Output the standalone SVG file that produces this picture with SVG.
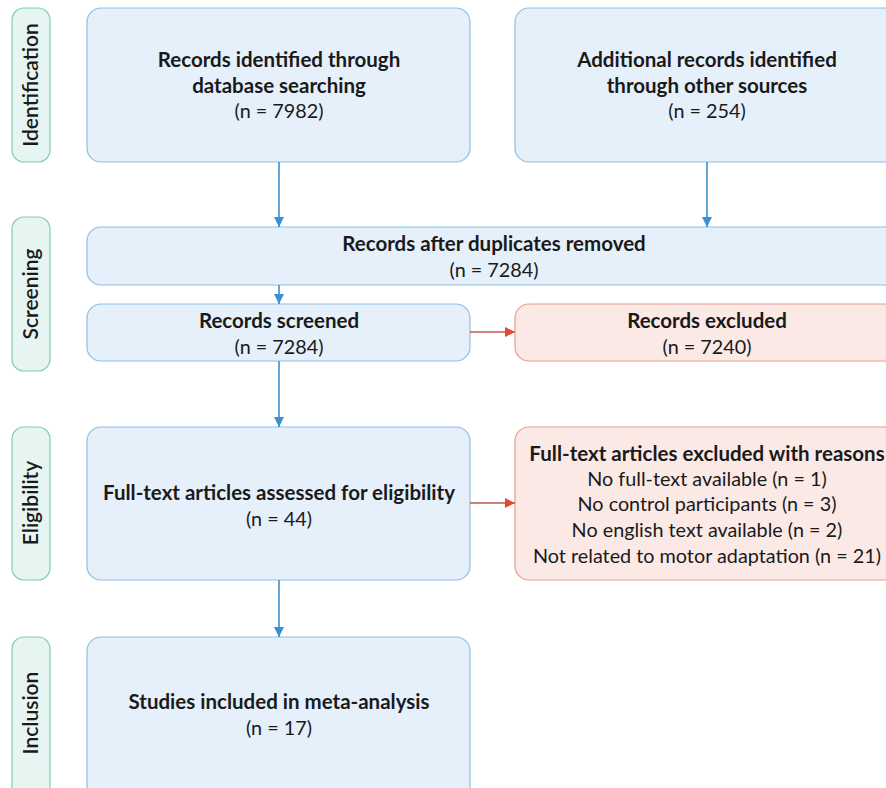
<svg xmlns="http://www.w3.org/2000/svg" width="886" height="788" viewBox="0 0 886 788">
<defs>
<style>
.stage{fill:#e6f5f1;stroke:#7fcdb8;stroke-width:1.2}
.stxt{font-family:Lato,"Noto Sans",sans-serif;font-size:21px;font-weight:600;fill:#1a1a1a;text-anchor:middle}
.box{fill:#e5f0fa;stroke:#8dbfe3;stroke-width:1.2}
.rbox{fill:#fbe9e6;stroke:#eb9c8e;stroke-width:1.2}
.b{font-family:Lato,"Noto Sans",sans-serif;font-size:20.5px;font-weight:bold;fill:#1a1a1a;text-anchor:middle}
.r{font-family:Lato,"Noto Sans",sans-serif;font-size:19.8px;fill:#1a1a1a;text-anchor:middle}
.ab{stroke:#3a8fd0;stroke-width:1.6;fill:none;marker-end:url(#mb)}
.ar{stroke:#c0584a;stroke-width:1.6;fill:none;marker-end:url(#mr)}
</style>
<marker id="mb" viewBox="0 0 10 10" refX="10" refY="5" markerWidth="10" markerHeight="10" markerUnits="userSpaceOnUse" orient="auto"><path d="M0,0 L10,5 L0,10 z" fill="#3a8fd0"/></marker>
<marker id="mr" viewBox="0 0 10 10" refX="10" refY="5" markerWidth="10" markerHeight="10" markerUnits="userSpaceOnUse" orient="auto"><path d="M0,0 L10,5 L0,10 z" fill="#e04a33"/></marker>
</defs>
<rect width="886" height="788" fill="#ffffff"/>
<g id="stage-identification"><rect class="stage" x="12" y="8" width="38" height="154" rx="12"/><text class="stxt" transform="translate(38,85) rotate(-90)">Identification</text></g>
<g id="stage-screening"><rect class="stage" x="12" y="217" width="38" height="154" rx="12"/><text class="stxt" transform="translate(38,294) rotate(-90)">Screening</text></g>
<g id="stage-eligibility"><rect class="stage" x="12" y="427" width="38" height="153" rx="12"/><text class="stxt" transform="translate(38,503) rotate(-90)">Eligibility</text></g>
<g id="stage-inclusion"><rect class="stage" x="12" y="637" width="38" height="165" rx="12"/><text class="stxt" transform="translate(38,713) rotate(-90)">Inclusion</text></g>

<g id="n-database"><rect class="box" x="87" y="8" width="383" height="154" rx="14"/>
<text class="b" x="279" y="67">Records identified through</text>
<text class="b" x="279" y="93">database searching</text>
<text class="r" x="279" y="118">(n = 7982)</text></g>
<g id="n-other"><rect class="box" x="515" y="8" width="384" height="154" rx="14"/>
<text class="b" x="707" y="67">Additional records identified</text>
<text class="b" x="707" y="93">through other sources</text>
<text class="r" x="707" y="118">(n = 254)</text></g>
<g id="n-dedup"><rect class="box" x="87" y="227" width="812" height="58" rx="14"/>
<text class="b" x="494" y="251">Records after duplicates removed</text>
<text class="r" x="494" y="277">(n = 7284)</text></g>
<g id="n-screened"><rect class="box" x="87" y="304" width="383" height="57" rx="14"/>
<text class="b" x="279" y="328">Records screened</text>
<text class="r" x="279" y="354">(n = 7284)</text></g>
<g id="n-excluded"><rect class="rbox" x="515" y="304" width="384" height="57" rx="14"/>
<text class="b" x="707" y="328">Records excluded</text>
<text class="r" x="707" y="354">(n = 7240)</text></g>
<g id="n-fulltext"><rect class="box" x="87" y="427" width="383" height="153" rx="14"/>
<text class="b" x="279" y="500">Full-text articles assessed for eligibility</text>
<text class="r" x="279" y="526">(n = 44)</text></g>
<g id="n-ftexcluded"><rect class="rbox" x="515" y="427" width="384" height="153" rx="14"/>
<text class="b" x="707" y="461">Full-text articles excluded with reasons</text>
<text class="r" x="707" y="486">No full-text available (n = 1)</text>
<text class="r" x="707" y="511">No control participants (n = 3)</text>
<text class="r" x="707" y="537">No english text available (n = 2)</text>
<text class="r" x="707" y="563">Not related to motor adaptation (n = 21)</text></g>
<g id="n-included"><rect class="box" x="87" y="637" width="383" height="165" rx="14"/>
<text class="b" x="279" y="709">Studies included in meta-analysis</text>
<text class="r" x="279" y="735">(n = 17)</text></g>

<g id="connectors">
<path class="ab" d="M279,162 V227"/>
<path class="ab" d="M707,162 V227"/>
<path class="ab" d="M279,285 V304"/>
<path class="ab" d="M279,361 V427"/>
<path class="ab" d="M279,580 V637"/>
<path class="ar" d="M470,332 H515"/>
<path class="ar" d="M470,503 H515"/>
</g>
</svg>
